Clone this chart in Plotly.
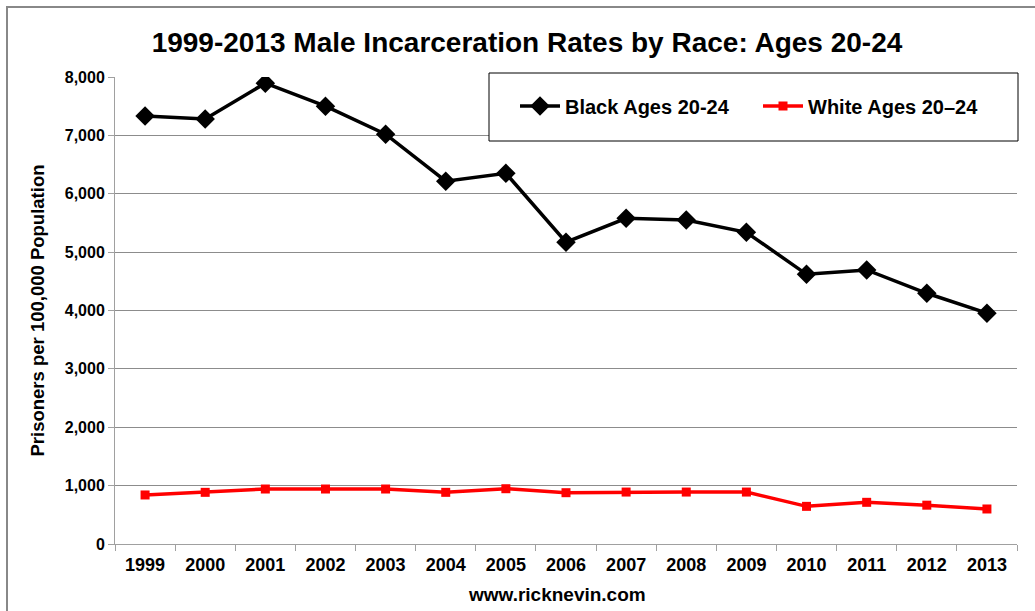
import plotly.graph_objects as go

years = ["1999", "2000", "2001", "2002", "2003", "2004", "2005", "2006",
         "2007", "2008", "2009", "2010", "2011", "2012", "2013"]
black_rates = [7330, 7280, 7895, 7500, 7020, 6215, 6350, 5170,
               5580, 5550, 5340, 4620, 4695, 4295, 3955]
white_rates = [840, 885, 942, 942, 942, 885, 947, 879,
               890, 890, 890, 645, 714, 665, 600]
y_ticks = [0, 1000, 2000, 3000, 4000, 5000, 6000, 7000, 8000]

FONT = "Liberation Sans, Arial, sans-serif"
W, H = 1035, 611
L, R, T, B = 115, 18, 77, 67
pw, ph = W - L - R, H - T - B

def px_x(x):
    return (x - L) / pw

def px_y(y):
    return 1 - (y - T) / ph

fig = go.Figure()
fig.add_trace(go.Scatter(
    x=years, y=black_rates, name="<b>Black Ages 20-24</b>", mode="lines+markers",
    line=dict(color="black", width=3.5),
    marker=dict(symbol="diamond", size=15, color="black"),
))
fig.add_trace(go.Scatter(
    x=years, y=white_rates, name="<b>White Ages 20\u201324</b>", mode="lines+markers",
    line=dict(color="#ff0000", width=3.5),
    marker=dict(symbol="square", size=9, color="#ff0000"),
))

fig.update_layout(
    width=W, height=H,
    margin=dict(l=L, r=R, t=T, b=B, autoexpand=False),
    paper_bgcolor="white", plot_bgcolor="white",
    font=dict(family=FONT, color="black"),
    title=dict(text="<b>1999-2013 Male Incarceration Rates by Race: Ages 20-24</b>",
               x=527 / W, xanchor="center", xref="container",
               y=1 - 42 / H, yanchor="middle", yref="container",
               font=dict(size=28, family=FONT, color="black")),
    showlegend=True,
    legend=dict(orientation="h", x=px_x(515), xanchor="left",
                y=px_y(106), yanchor="middle",
                bgcolor="rgba(0,0,0,0)", borderwidth=0,
                font=dict(size=20, family=FONT, color="black"),
                entrywidth=188, itemwidth=40),
    xaxis=dict(type="category", tickson="boundaries", ticks="outside",
               ticklen=6, tickcolor="#a0a0a0", showline=True,
               linecolor="#a0a0a0", linewidth=1, showgrid=False,
               tickfont=dict(size=18, family=FONT, color="black"),
               ticklabelstandoff=4,
               range=[-0.5, len(years) - 0.5]),
    yaxis=dict(range=[0, 8000], tickvals=y_ticks,
               ticktext=[f"<b>{v:,}</b>" for v in y_ticks],
               ticks="outside", ticklen=6, tickcolor="#a0a0a0",
               showline=True, linecolor="#a0a0a0", linewidth=1,
               showgrid=True, gridcolor="#8c8c8c", gridwidth=1,
               zeroline=False,
               tickfont=dict(size=16, family=FONT, color="black"),
               title=dict(text="<b>Prisoners per 100,000 Population</b>",
                          font=dict(size=18.5, family=FONT, color="black"),
                          standoff=15)),
)
fig.update_xaxes(ticktext=[f"<b>{y}</b>" for y in years], tickvals=years)

# x-axis caption
fig.add_annotation(text="<b>www.ricknevin.com</b>", xref="paper", yref="paper",
                   x=px_x(557), y=px_y(594), xanchor="center", yanchor="middle",
                   showarrow=False, font=dict(size=19, family=FONT, color="black"))

# outer chart border
fig.add_shape(type="rect", xref="paper", yref="paper",
              x0=px_x(7), x1=px_x(1040), y0=px_y(620), y1=px_y(7),
              line=dict(color="#888888", width=2), fillcolor="rgba(0,0,0,0)",
              layer="below")
# legend box
fig.add_shape(type="rect", xref="paper", yref="paper",
              x0=px_x(489), x1=px_x(1018), y0=px_y(141), y1=px_y(73),
              line=dict(color="black", width=1), fillcolor="white",
              layer="above")

fig.write_html("out.html")
